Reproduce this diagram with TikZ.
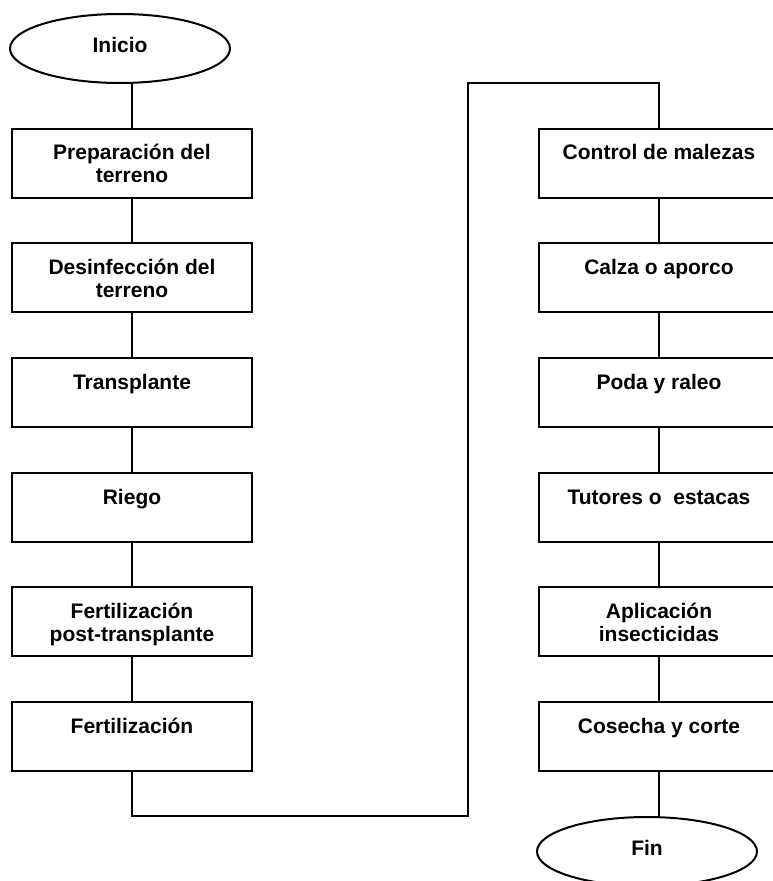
\documentclass[tikz,border=0pt]{standalone}
\usepackage{fontspec}
\setmainfont{Liberation Sans}
\usetikzlibrary{shapes.geometric}
\begin{document}
\begin{tikzpicture}[x=1pt,y=-1pt,
  line width=2pt,
  procbox/.style={draw=black, rectangle, minimum width=240pt, minimum height=69pt, inner sep=0pt},
  termbox/.style={draw=black, ellipse, minimum width=220pt, minimum height=69pt, inner sep=0pt},
  txt/.style={font=\fontsize{21}{23}\selectfont\bfseries, align=center, inner sep=0pt, anchor=base},
  conn/.style={draw=black, line width=2pt}]
\useasboundingbox (0,0) rectangle (773,881);
\clip (0,0) rectangle (773,881);
% terminals
\node[termbox] (inicio) at (120,48.5) {};
\node[txt] (tinicio) at (120,52) {Inicio};
\node[termbox] (fin) at (647,851.5) {};
\node[txt] (tfin) at (647,855) {Fin};
% left column boxes
\node[procbox] (b1) at (132,163) {};
\node[procbox] (b2) at (132,277.5) {};
\node[procbox] (b3) at (132,392.5) {};
\node[procbox] (b4) at (132,507.5) {};
\node[procbox] (b5) at (132,621.5) {};
\node[procbox] (b6) at (132,736.5) {};
% right column boxes
\node[procbox] (c1) at (659,163) {};
\node[procbox] (c2) at (659,277.5) {};
\node[procbox] (c3) at (659,392.5) {};
\node[procbox] (c4) at (659,507.5) {};
\node[procbox] (c5) at (659,621.5) {};
\node[procbox] (c6) at (659,736.5) {};
% texts (base anchor = baseline of the last line)
\node[txt] (tb1) at ([yshift=-55pt]b1.north) {Preparación del\\terreno};
\node[txt] (tb2) at ([yshift=-55pt]b2.north) {Desinfección del\\terreno};
\node[txt] (tb3) at ([yshift=-32pt]b3.north) {Transplante};
\node[txt] (tb4) at ([yshift=-32pt]b4.north) {Riego};
\node[txt] (tb5) at ([yshift=-55pt]b5.north) {Fertilización\\post-transplante};
\node[txt] (tb6) at ([yshift=-32pt]b6.north) {Fertilización};
\node[txt] (tc1) at ([yshift=-32pt]c1.north) {Control de malezas};
\node[txt] (tc2) at ([yshift=-32pt]c2.north) {Calza o aporco};
\node[txt] (tc3) at ([yshift=-32pt]c3.north) {Poda y raleo};
\node[txt] (tc4) at ([yshift=-32pt]c4.north) {Tutores o\ \ estacas};
\node[txt] (tc5) at ([yshift=-55pt]c5.north) {Aplicación\\insecticidas};
\node[txt] (tc6) at ([yshift=-32pt]c6.north) {Cosecha y corte};
% connectors
\draw[conn] (inicio.south -| b1.north) -- (b1.north);
\draw[conn] (b1.south) -- (b2.north);
\draw[conn] (b2.south) -- (b3.north);
\draw[conn] (b3.south) -- (b4.north);
\draw[conn] (b4.south) -- (b5.north);
\draw[conn] (b5.south) -- (b6.north);
\coordinate (m1) at (468,816);
\coordinate (m2) at (468,83);
\draw[conn] (b6.south) |- (m1) -- (m2) -| (c1.north);
\draw[conn] (c1.south) -- (c2.north);
\draw[conn] (c2.south) -- (c3.north);
\draw[conn] (c3.south) -- (c4.north);
\draw[conn] (c4.south) -- (c5.north);
\draw[conn] (c5.south) -- (c6.north);
\draw[conn] (c6.south) -- (fin.north -| c6.south);
\end{tikzpicture}
\end{document}
